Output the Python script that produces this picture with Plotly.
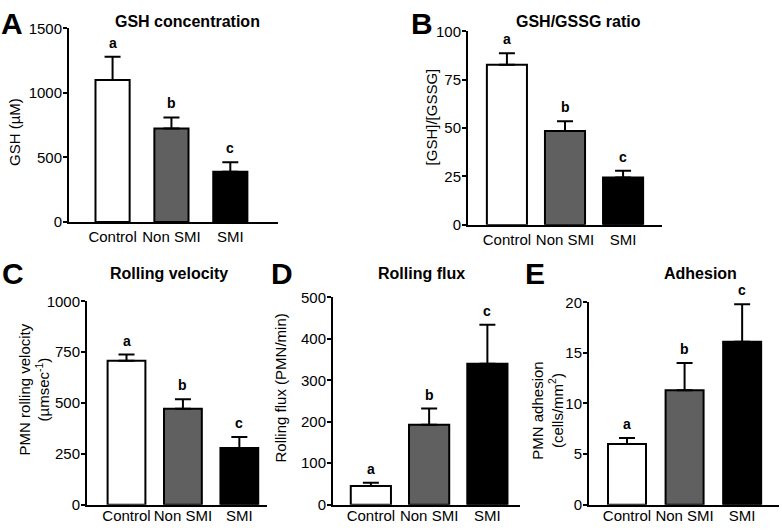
import plotly.graph_objects as go

groups = ["Control", "Non SMI", "SMI"]
sig_letters = ["a", "b", "c"]
bar_colors = ["#ffffff", "#606060", "#000000"]

gsh_mean = [1100, 725, 390]
gsh_err = [180, 85, 72]

ratio_mean = [82.7, 48.5, 24.5]
ratio_err = [6.0, 5.0, 3.5]

velocity_mean = [708, 472, 278]
velocity_err = [30, 47, 55]

flux_mean = [45, 193, 340]
flux_err = [8, 39, 94]

adhesion_mean = [6.0, 11.3, 16.1]
adhesion_err = [0.6, 2.7, 3.7]

W, H = 782, 532
FONT = "Liberation Sans, Arial, sans-serif"


def px(x):
    return x / W


def py(y):
    return 1 - y / H


# panel layout in pixels: x domain, y domain (top, bottom), y range, dtick, x range, bar width
panels = [
    dict(letter="A", title="GSH concentration", ytitle="GSH (µM)",
         mean=gsh_mean, err=gsh_err, xdom=(69, 278), ydom=(20, 220),
         yr=1500, dtick=500, xr=(-0.74, 2.81), bw=0.58, standoff=0,
         letter_pos=(12, 15), title_pos=(187, 13), ytitle_pos=(15, 127)),
    dict(letter="B", title="GSH/GSSG ratio", ytitle="[GSH]/[GSSG]",
         mean=ratio_mean, err=ratio_err, xdom=(468, 662), ydom=(23, 223),
         yr=100, dtick=25, xr=(-0.67, 2.67), bw=0.69, standoff=0,
         letter_pos=(422, 15), title_pos=(578, 13), ytitle_pos=(431, 112)),
    dict(letter="C", title="Rolling velocity",
         ytitle="PMN rolling velocity<br>(µmsec<sup>-1</sup>)",
         mean=velocity_mean, err=velocity_err, xdom=(87, 267), ydom=(302, 512),
         yr=1000, dtick=250, xr=(-0.7, 2.49), bw=0.67, standoff=-4,
         letter_pos=(13, 273), title_pos=(169, 273), ytitle_pos=(34, 393)),
    dict(letter="D", title="Rolling flux", ytitle="Rolling flux (PMN/min)",
         mean=flux_mean, err=flux_err, xdom=(333, 520), ydom=(298, 512),
         yr=500, dtick=100, xr=(-0.65, 2.56), bw=0.69, standoff=-4,
         letter_pos=(282, 273), title_pos=(421, 273), ytitle_pos=(280, 392)),
    dict(letter="E", title="Adhesion", ytitle="PMN adhesion<br>(cells/mm<sup>2</sup>)",
         mean=adhesion_mean, err=adhesion_err, xdom=(589, 779), ydom=(303, 512),
         yr=20, dtick=5, xr=(-0.66, 2.64), bw=0.66, standoff=-4,
         letter_pos=(535, 273), title_pos=(700, 273), ytitle_pos=(548, 415)),
]

fig = go.Figure()
annotations = []
layout = {}

for i, p in enumerate(panels):
    n = "" if i == 0 else str(i + 1)
    xa, ya = "x" + n, "y" + n
    fig.add_trace(go.Bar(
        x=groups, y=p["mean"], width=p["bw"],
        marker=dict(color=bar_colors, line=dict(color="black", width=2)),
        error_y=dict(type="data", symmetric=False, array=p["err"],
                     arrayminus=[0, 0, 0], color="black", thickness=2, width=8),
        xaxis=xa, yaxis=ya, showlegend=False, hoverinfo="skip",
    ))
    layout["xaxis" + n] = dict(
        domain=[px(p["xdom"][0]), px(p["xdom"][1])], anchor=ya,
        range=list(p["xr"]), showline=True, linewidth=2, linecolor="black",
        ticks="", ticklen=0, ticklabelstandoff=p["standoff"],
        showgrid=False, zeroline=False,
        tickfont=dict(family=FONT, size=15, color="black"), fixedrange=True,
    )
    layout["yaxis" + n] = dict(
        domain=[py(p["ydom"][1]), py(p["ydom"][0])], anchor=xa,
        range=[0, p["yr"]], dtick=p["dtick"], showline=True, linewidth=2,
        linecolor="black", ticks="outside", ticklen=4, tickwidth=2,
        tickcolor="black", showgrid=False, zeroline=False, ticklabelstandoff=-2,
        tickfont=dict(family=FONT, size=15, color="black"), fixedrange=True,
    )
    # significance letters above error bars
    for g, m, e, s in zip(groups, p["mean"], p["err"], sig_letters):
        annotations.append(dict(
            x=g, y=m + e, xref=xa, yref=ya, text="<b>%s</b>" % s,
            showarrow=False, yanchor="bottom", yshift=4,
            font=dict(family=FONT, size=14, color="black"),
        ))
    annotations.append(dict(
        x=px(p["letter_pos"][0]), y=py(p["letter_pos"][1]), xref="paper", yref="paper",
        text="<b>%s</b>" % p["letter"], showarrow=False,
        xanchor="center", yanchor="middle",
        font=dict(family=FONT, size=30, color="black"),
    ))
    annotations.append(dict(
        x=px(p["title_pos"][0]), y=py(p["title_pos"][1]), xref="paper", yref="paper",
        text="<b>%s</b>" % p["title"], showarrow=False,
        xanchor="center", yanchor="middle",
        font=dict(family=FONT, size=16, color="black"),
    ))
    annotations.append(dict(
        x=px(p["ytitle_pos"][0]), y=py(p["ytitle_pos"][1]), xref="paper", yref="paper",
        text=p["ytitle"], showarrow=False, textangle=-90,
        xanchor="center", yanchor="middle",
        font=dict(family=FONT, size=15, color="black"),
    ))

fig.update_layout(
    width=W, height=H, margin=dict(l=0, r=0, t=0, b=0),
    paper_bgcolor="white", plot_bgcolor="white",
    annotations=annotations, **layout,
)

fig.write_html("out.html", config={"displayModeBar": False},
               post_script="document.body.style.margin='0';")
